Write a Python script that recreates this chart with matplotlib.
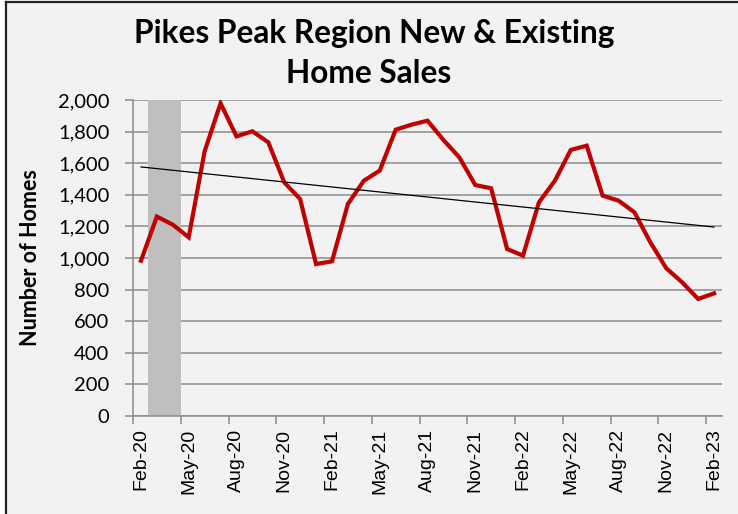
import numpy as np
import pandas as pd
import matplotlib
matplotlib.use("Agg")
import matplotlib.pyplot as plt
from matplotlib.lines import Line2D

# monthly sales, Feb-2020 .. Feb-2023
months = pd.date_range("2020-02-01", "2023-02-01", freq="MS").strftime("%b-%y").tolist()
sales = [983, 1262, 1211, 1131, 1675, 1979, 1770, 1802, 1732, 1479, 1373, 962,
         979, 1342, 1489, 1553, 1812, 1844, 1869, 1747, 1637, 1462, 1441, 1057,
         1015, 1352, 1489, 1684, 1711, 1395, 1363, 1289, 1099, 935, 846, 741,
         776]
recession_months = ["Mar-20", "Apr-20"]
yticks = list(range(0, 2001, 200))

BG = "#F2F2F2"
GRID = "#8C8C8C"

fig = plt.figure(figsize=(7.38, 5.14), dpi=100, facecolor="white")
# grey panel with dark edge on left and top (image is cropped on the other sides)
fig.patches.append(plt.Rectangle((6 / 738, 0), 1, 1 - 2 / 514, transform=fig.transFigure,
                                 facecolor=BG, edgecolor="none", zorder=-2))
fig.add_artist(Line2D([6 / 738, 6 / 738], [0, 1 - 2 / 514], color="#222222", lw=1.6))
fig.add_artist(Line2D([6 / 738, 1], [1 - 2 / 514, 1 - 2 / 514], color="#222222", lw=1.6))

ax = fig.add_axes([133 / 738, 1 - 416 / 514, (722 - 133) / 738, (416 - 100) / 514])
ax.set_facecolor(BG)

x = np.arange(len(months))

# recession shading
idx = [months.index(m) for m in recession_months]
ax.axvspan(min(idx) - 0.58, max(idx) + 0.52, color="#BFBFBF", lw=0, zorder=1)

ax.plot(x, sales, color="#C00000", lw=3.0, zorder=4, solid_joinstyle="miter")

# linear trendline
m, b = np.polyfit(x, sales, 1)
ax.plot(x, m * x + b, color="black", lw=0.9, zorder=5)

ax.set_xlim(-0.5, len(months) - 0.5)
ax.set_ylim(0, 2000)
ax.set_yticks(yticks)
ax.set_yticklabels([f"{v:,}" for v in yticks], fontsize=14.5, family="Lato")
ax.yaxis.grid(True, color=GRID, lw=1.1, zorder=0)
ax.set_axisbelow(True)

# ticks at category boundaries, labels centred on categories
ax.set_xticks(np.arange(0, len(months), 3) - 0.5)
ax.set_xticklabels([])
ax.set_xticks(np.arange(0, len(months), 3), minor=True)
ax.set_xticklabels(months[::3], minor=True, rotation=90, fontsize=14, family="Liberation Sans")
ax.tick_params(axis="x", which="minor", length=0, pad=9)
ax.tick_params(axis="x", which="major", length=6, width=1.1, color=GRID)
ax.tick_params(axis="y", length=6, width=1.1, color=GRID, pad=11)

for s in ["top", "right"]:
    ax.spines[s].set_visible(False)
for s in ["left", "bottom"]:
    ax.spines[s].set_color(GRID)
    ax.spines[s].set_linewidth(1.1)

ax.set_ylabel("Number of Homes", fontsize=15.5, fontweight="bold", family="Lato", labelpad=12)

fig.text(0.507, 0.935, "Pikes Peak Region New & Existing", ha="center", va="center",
         fontsize=22.8, fontweight="bold", family="Lato")
fig.text(0.5, 0.857, "Home Sales", ha="center", va="center",
         fontsize=22.8, fontweight="bold", family="Lato")

fig.savefig("out.png", dpi=100, facecolor=fig.get_facecolor())
